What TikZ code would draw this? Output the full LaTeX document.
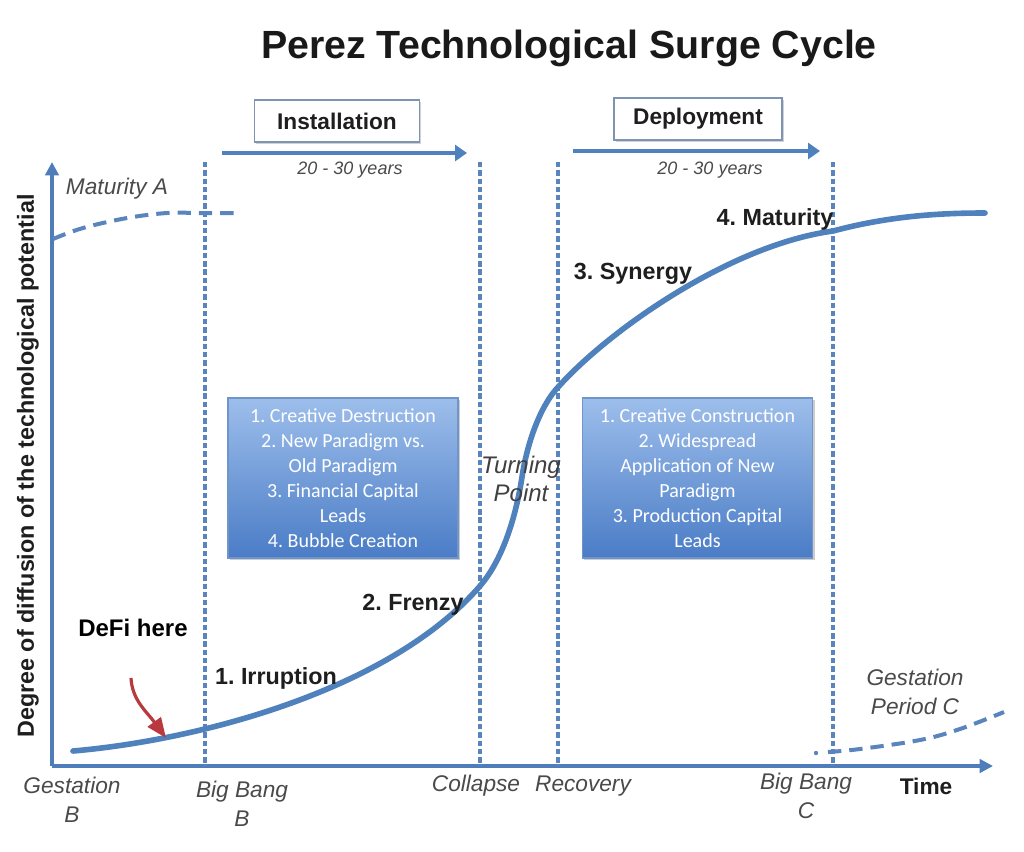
\documentclass[tikz,border=0pt]{standalone}
\usepackage{fontspec}
\setmainfont{Liberation Sans}
\newfontfamily\calib{Carlito}
\usetikzlibrary{arrows.meta,shadows}
\frenchspacing
\definecolor{axisblue}{HTML}{4F7DBA}
\definecolor{curveblue}{HTML}{4F81BD}
\definecolor{dashblue}{HTML}{5A84BE}
\definecolor{defired}{HTML}{B83A3E}
\definecolor{labgrey}{HTML}{4A4A4A}
\definecolor{labdark}{HTML}{1E1E1E}
\definecolor{boxtop}{HTML}{9DBEEB}
\definecolor{boxbot}{HTML}{4A7CC6}
\definecolor{boxedge}{HTML}{6F95CB}
\definecolor{framegrey}{HTML}{7F93B2}
\tikzset{
  axisline/.style={draw=axisblue, line width=2.8pt, -{Triangle[length=10pt,width=10pt]}},
  phasearrow/.style={draw=curveblue, line width=3.6pt, -{Triangle[length=9pt,width=12pt]}},
  vdash/.style={draw=dashblue, line width=2.4pt, dash pattern=on 4pt off 2.2pt},
  sdash/.style={draw=dashblue, line width=3pt, dash pattern=on 10pt off 6pt},
  scurve/.style={draw=curveblue, line width=4.2pt, line cap=round},
  phasebox/.style={draw=framegrey, line width=1.3pt, fill=white, minimum height=31.5pt,
     font=\bfseries\fontsize{17}{20}\selectfont, text=labdark,
     drop shadow={shadow xshift=1.2pt, shadow yshift=-1.2pt, opacity=0.35}},
  infobox/.style={draw=boxedge, line width=0.8pt, top color=boxtop, bottom color=boxbot,
     minimum width=172.5pt, minimum height=120pt, align=center, text=white,
     font=\calib\fontsize{15}{18.75}\selectfont,
     drop shadow={shadow xshift=1.5pt, shadow yshift=-1.5pt, opacity=0.4}},
  stagelab/.style={font=\bfseries\fontsize{17.5}{21}\selectfont, text=labdark, inner sep=0pt},
  itlab/.style={font=\itshape\fontsize{17}{21.75}\selectfont, text=labgrey, align=center, inner sep=0pt},
  yrs/.style={font=\itshape\fontsize{13.5}{16}\selectfont, text=labgrey, inner sep=0pt},
}
\begin{document}
\begin{tikzpicture}[x=0.75pt,y=-0.75pt]
\useasboundingbox (0,0) rectangle (1024,851);
\fill[white] (0,0) rectangle (1024,851);

% title
\node[font=\bfseries\fontsize{29.5}{34}\selectfont, text=black!90, anchor=base] (title) at (569,58) {Perez Technological Surge Cycle};

% axes
\coordinate (O) at (52,766);
\coordinate (ytip) at (52,162);
\coordinate (xtip) at (993,766);
\draw[axisline] (O) -- (ytip);
\draw[axisline] (O) -- (xtip);
\node[rotate=90, font=\bfseries\fontsize{17.5}{21}\selectfont, text=labdark] (ylab) at (28,466) {Degree of diffusion of the technological potential};
\node[font=\bfseries\fontsize{17}{21}\selectfont, text=labdark] (time) at (926,786) {Time};

% dashed vertical lines
\foreach \n/\x in {bbb/205, col/480, rec/558, bbc/833} {
  \coordinate (\n-top) at (\x,162);
  \coordinate (\n-bot) at (\x,766);
  \draw[vdash] (\n-top) -- (\n-bot);
}

% phase boxes and arrows
\node[phasebox, minimum width=123.75pt] (inst) at (337,121) {Installation};
\node[phasebox, minimum width=126pt] (depl) at (698,119) {Deployment};
\coordinate (ia1) at (222,153); \coordinate (ia2) at (467,153);
\coordinate (da1) at (573,151); \coordinate (da2) at (820,151);
\draw[phasearrow] (ia1) -- (ia2);
\draw[phasearrow] (da1) -- (da2);
\node[yrs] (yrs1) at (350,170) {20 - 30 years};
\node[yrs] (yrs2) at (710,170) {20 - 30 years};

% maturity A dashed curve
\draw[sdash] plot[smooth, tension=0.6] coordinates {(53,239) (83,228) (127,218) (167,213) (200,213) (236,213)};
\node[itlab] (matA) at (117,189) {Maturity A};

% gestation C dashed curve
\fill[dashblue] (816,753) circle (2.2);
\draw[sdash] plot[smooth, tension=0.6] coordinates {(828,752) (860,749) (920,740) (960,729) (1004,712)};
\node[itlab] (gestC) at (915,692) {Gestation\\Period C};

% info boxes
\node[infobox] (lbox) at (343,478) {1. Creative Destruction\\2. New Paradigm vs.\\Old Paradigm\\3. Financial Capital\\Leads\\4. Bubble Creation};
\node[infobox, minimum width=173pt] (rbox) at (697.5,478) {1. Creative Construction\\2. Widespread\\Application of New\\Paradigm\\3. Production Capital\\Leads};

% main S-curve
\coordinate (c0) at (73,751);
\coordinate (c1) at (480,586);
\coordinate (c2) at (522,477);
\coordinate (c3) at (560,385);
\coordinate (c4) at (833,231);
\coordinate (c5) at (985,213);
\draw[scurve] (c0) .. controls (200,740) and (390,690) .. (c1)
  .. controls (505,557) and (517,510) .. (c2)
  .. controls (527,444) and (540,405) .. (c3)
  .. controls (610,330) and (730,245) .. (c4)
  .. controls (893,215) and (945,213) .. (c5);

% stage labels
\node[stagelab] (s1) at (276,678) {1. Irruption};
\node[stagelab] (s2) at (413,605) {2. Frenzy};
\node[stagelab] (s3) at (633,274) {3. Synergy};
\node[stagelab] (s4) at (775,219) {4. Maturity};
\node[font=\itshape\fontsize{18}{21}\selectfont, text=black!75, align=center, inner sep=0pt] (turn) at (521,479) {Turning\\Point};

% DeFi annotation
\node[font=\bfseries\fontsize{18}{22}\selectfont, text=black] (defi) at (133,628) {DeFi here};
\coordinate (dfa) at (131,678);
\coordinate (dfb) at (166,738);
\draw[defired, line width=2.4pt, -{Triangle[length=15pt,width=12pt]}] (dfa) .. controls (132,700) and (147,712) .. (dfb);

% bottom labels
\node[itlab] (gestB) at (72,800) {Gestation\\B};
\node[itlab] (bbB) at (242,804) {Big Bang\\B};
\node[itlab] (collapse) at (476,786) {Collapse};
\node[itlab] (recovery) at (583,786) {Recovery};
\node[itlab] (bbC) at (806,796) {Big Bang\\C};
\end{tikzpicture}
\end{document}
